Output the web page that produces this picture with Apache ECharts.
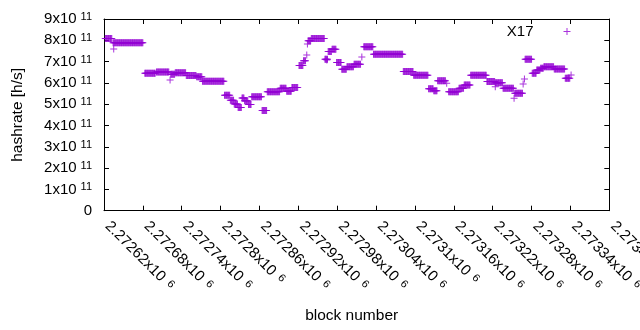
<!DOCTYPE html>
<html>
<head>
<meta charset="utf-8">
<title>X17 hashrate</title>
<script src="https://cdn.jsdelivr.net/npm/echarts@6.0.0/dist/echarts.min.js"></script>
<style>
  html, body { margin: 0; padding: 0; background: #fff; }
  #chart { width: 640px; height: 330px; }
</style>
</head>
<body>
<div id="chart"></div>
<script>
// block numbers are offsets from blockBase; rates in units of 1e11 h/s
const blockBase = 2272620;
const blockMax = 2273400;

// runs of consecutive blocks with the same hashrate estimate
const runFrom = [2, 14, 63, 81, 103, 110, 127, 143, 152, 186, 195, 201, 207, 213, 217, 223, 228, 244, 252, 272,
  282, 290, 301, 308, 315, 320, 341, 346, 352, 359, 367, 375, 386, 401, 416, 462, 478, 501, 509, 515,
  532, 548, 556, 566, 591, 604, 616, 634, 650, 661, 668, 674, 679, 695, 712];
const runTo = [12, 60, 79, 100, 109, 126, 142, 151, 185, 194, 200, 206, 212, 216, 222, 227, 243, 251, 271, 281,
  289, 299, 307, 311, 319, 340, 345, 351, 358, 366, 374, 385, 396, 415, 461, 477, 500, 508, 514, 527,
  547, 555, 565, 590, 603, 615, 632, 646, 660, 667, 673, 678, 694, 711, 719];
const runRate = [8.08, 7.89, 6.45, 6.51, 6.41, 6.48, 6.35, 6.29, 6.08, 5.42, 5.18, 5.01, 4.85, 5.29, 5.16, 4.99, 5.35, 4.71, 5.59, 5.75,
  5.61, 5.78, 6.82, 7.04, 7.98, 8.09, 7.11, 7.48, 7.58, 6.96, 6.64, 6.76, 6.87, 7.70, 7.34, 6.53, 6.36, 5.72, 5.63, 6.10,
  5.59, 5.75, 5.90, 6.36, 6.06, 6.01, 5.75, 5.51, 7.11, 6.45, 6.61, 6.69, 6.76, 6.65, 6.22];

// single outlying points
const strayBlock = [15, 102, 313, 314, 344, 398, 529, 604, 633, 647, 649, 721];
const strayRate = [7.59, 6.14, 7.31, 7.83, 7.08, 7.22, 5.98, 5.82, 5.28, 5.95, 6.18, 6.37];

const xTickText = ['2.27262', '2.27268', '2.27274', '2.2728', '2.27286', '2.27292', '2.27298',
  '2.27304', '2.2731', '2.27316', '2.27322', '2.27328', '2.27334', '2.2734'];
const yTickText = ['0', '1x10', '2x10', '3x10', '4x10', '5x10', '6x10', '7x10', '8x10', '9x10'];

const font = 'Liberation Sans';
const purple = '#9400d3';
const plusPath = 'path://M3,0H4V3H7V4H4V7H3V4H0V3H3Z';

let points = [];
runFrom.forEach((from, i) => {
  for (let b = from; b <= runTo[i]; b++) {
    points.push([blockBase + b, runRate[i] * 1e11]);
  }
});
strayBlock.forEach((b, i) => {
  points.push([blockBase + b, strayRate[i] * 1e11]);
});

// superscript exponents via rich text
const richY = {
  m: { fontFamily: font, fontSize: 15, color: '#000', lineHeight: 15, verticalAlign: 'bottom' },
  s: { fontFamily: font, fontSize: 11, color: '#000', lineHeight: 11, verticalAlign: 'top', padding: [0, 0, 7, 4] }
};
const richX = {
  m: { fontFamily: font, fontSize: 15, color: '#000', lineHeight: 15, verticalAlign: 'bottom', padding: [0, 0, 0, 5] },
  s: { fontFamily: font, fontSize: 11, color: '#000', lineHeight: 11, verticalAlign: 'top', padding: [0, 0, 9, 6] }
};

const myChart = echarts.init(document.getElementById('chart'));
const option = {
  animation: false,
  backgroundColor: '#fff',
  grid: { left: 104, right: 30.7, top: 19, bottom: 119.3, containLabel: false, outerBoundsMode: 'none' },
  legend: {
    data: [{ name: 'X17', icon: plusPath }],
    right: 69.5,
    top: 24,
    padding: 0,
    itemWidth: 7,
    itemHeight: 7,
    align: 'right',
    selectedMode: false,
    textStyle: { fontFamily: font, fontSize: 15, color: '#000', padding: [0, 25, 0, 0] }
  },
  xAxis: [{
    type: 'value',
    position: 'bottom',
    min: blockBase,
    max: blockMax,
    interval: 60,
    axisLine: { show: true, onZero: false, lineStyle: { color: '#000', width: 1 } },
    axisTick: { show: true, inside: true, length: 5, lineStyle: { color: '#000' } },
    splitLine: { show: false },
    axisLabel: {
      rotate: -45,
      margin: 9.6,
      formatter: function (value, index) {
        return '{m|' + xTickText[index] + 'x10}{s|6}';
      },
      rich: richX
    },
    name: 'block number',
    nameLocation: 'middle',
    nameGap: 97,
    nameTextStyle: { fontFamily: font, fontSize: 15.5, color: '#000', padding: [0, 10, 0, 0] }
  }, {
    type: 'value',
    position: 'top',
    min: blockBase,
    max: blockMax,
    interval: 60,
    axisLine: { show: true, onZero: false, lineStyle: { color: '#000', width: 1 } },
    axisTick: { show: true, inside: true, length: 5, lineStyle: { color: '#000' } },
    axisLabel: { show: false },
    splitLine: { show: false }
  }],
  yAxis: [{
    type: 'value',
    position: 'left',
    min: 0,
    max: 9e11,
    interval: 1e11,
    axisLine: { show: true, onZero: false, lineStyle: { color: '#000', width: 1 } },
    axisTick: { show: true, inside: true, length: 5, lineStyle: { color: '#000' } },
    splitLine: { show: false },
    axisLabel: {
      margin: 12,
      formatter: function (value, index) {
        if (index === 0) return '{m|' + yTickText[0] + '}';
        return '{m|' + yTickText[index] + '}{s|11}';
      },
      rich: richY
    },
    name: 'hashrate [h/s]',
    nameLocation: 'middle',
    nameGap: 78,
    nameTextStyle: { fontFamily: font, fontSize: 15.5, color: '#000' }
  }, {
    type: 'value',
    position: 'right',
    min: 0,
    max: 9e11,
    interval: 1e11,
    axisLine: { show: true, onZero: false, lineStyle: { color: '#000', width: 1 } },
    axisTick: { show: true, inside: true, length: 5, lineStyle: { color: '#000' } },
    axisLabel: { show: false },
    splitLine: { show: false }
  }],
  series: [{
    name: 'X17',
    type: 'scatter',
    xAxisIndex: 0,
    yAxisIndex: 0,
    symbol: plusPath,
    symbolSize: 7,
    itemStyle: { color: purple },
    data: points
  }]
};
myChart.setOption(option);
</script>
</body>
</html>
